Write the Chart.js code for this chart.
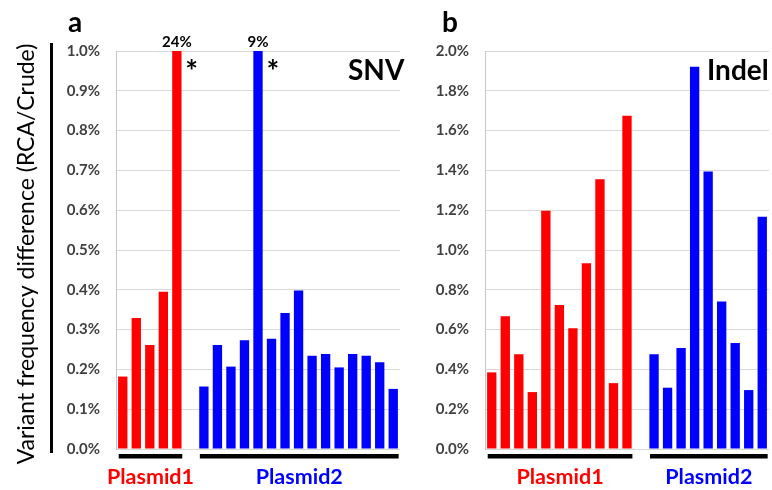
<!DOCTYPE html>
<html>
<head>
<meta charset="utf-8">
<script src="https://cdn.jsdelivr.net/npm/chart.js@4/dist/chart.umd.min.js"></script>
<style>
  body { margin: 0; background: #fff; }
  #wrap { position: relative; width: 772px; height: 490px; overflow: hidden; }
  canvas { position: absolute; top: 0; }
  #chartA { left: 0; }
  #chartB { left: 410px; }
</style>
</head>
<body>
<div id="wrap">
  <canvas id="chartA" width="410" height="490"></canvas>
  <canvas id="chartB" width="362" height="490"></canvas>
</div>
<script>
// SNV panel (a), values in %
const snvPlasmid1 = [0.182, 0.329, 0.261, 0.395, 24]
const snvPlasmid2 = [0.157, 0.261, 0.207, 0.273, 9, 0.277, 0.342, 0.398, 0.234, 0.239, 0.205, 0.239, 0.234, 0.218, 0.151]
// Indel panel (b), values in %
const indelPlasmid1 = [0.385, 0.667, 0.476, 0.286, 1.197, 0.724, 0.607, 0.933, 1.355, 0.331, 1.674]
const indelPlasmid2 = [0.476, 0.308, 0.508, 1.921, 1.395, 0.741, 0.533, 0.296, 1.167]

const snvTicks = [0, 0.1, 0.2, 0.3, 0.4, 0.5, 0.6, 0.7, 0.8, 0.9, 1.0]
const indelTicks = [0, 0.2, 0.4, 0.6, 0.8, 1.0, 1.2, 1.4, 1.6, 1.8, 2.0]
const groupNames = ['Plasmid1', 'Plasmid2']
const yTitle = 'Variant frequency difference (RCA/Crude)'

const RED = '#ff0000'
const BLUE = '#0000ff'
const FONT = 'Lato, "Open Sans", sans-serif'

// one empty slot between the two plasmids
function buildData(p1, p2) {
  const n = p1.length + 1 + p2.length
  const labels = []
  for (let i = 0; i < n; i++) labels.push('v' + (i + 1))
  const gap = [null]
  const d1 = p1.concat(gap, p2.map(() => null))
  const d2 = p1.map(() => null).concat(gap, p2)
  return { labels, d1, d2, first2: p1.length + 1 }
}

// black bars + group names below the x axis, star / value notes on top
const notesPlugin = {
  id: 'notes',
  afterDraw(chart, args, opts) {
    const ctx = chart.ctx
    const x = chart.scales.x
    const area = chart.chartArea
    const slot = x.getPixelForValue(1) - x.getPixelForValue(0)
    ctx.save()
    opts.groups.forEach((g) => {
      const x0 = x.getPixelForValue(g.from) - slot * 0.3
      const x1 = x.getPixelForValue(g.to) + slot * 0.4
      ctx.fillStyle = '#000'
      ctx.fillRect(x0, area.bottom + 5, x1 - x0, 4.5)
      ctx.fillStyle = g.color
      ctx.font = 'bold 21.5px ' + FONT
      ctx.textAlign = 'center'
      ctx.textBaseline = 'alphabetic'
      ctx.fillText(g.name, (x0 + x1) / 2, 484)
    })
    ;(opts.offscale || []).forEach((o) => {
      const px = x.getPixelForValue(o.index)
      ctx.fillStyle = '#000'
      ctx.textAlign = 'center'
      ctx.font = 'bold 15px ' + FONT
      ctx.fillText(o.text, px, area.top - 4)
      ctx.font = 'bold 30px ' + FONT
      ctx.fillText('*', px + slot * 1.1, area.top + 31)
    })
    ctx.fillStyle = '#000'
    ctx.textAlign = 'left'
    ctx.font = 'bold 28px ' + FONT
    ctx.fillText(opts.tag, opts.tagX, 80)
    ctx.textAlign = 'center'
    ctx.font = 'bold 28px ' + FONT
    ctx.fillText(opts.panel, opts.panelX, 32)
    if (opts.yTitle) {
      ctx.font = '23px ' + FONT
      ctx.translate(27, 254)
      ctx.rotate(-Math.PI / 2)
      ctx.textBaseline = 'middle'
      ctx.fillText(opts.yTitle, 0, 0)
      ctx.setTransform(1, 0, 0, 1, 0, 0)
      ctx.fillRect(50, 43, 3, 410)
    }
    ctx.restore()
  }
}

function makeChart(id, p1, p2, ticks, yWidth, padRight, notes) {
  const b = buildData(p1, p2)
  notes.groups = [
    { name: groupNames[0], color: RED, from: 0, to: p1.length - 1 },
    { name: groupNames[1], color: BLUE, from: b.first2, to: b.labels.length - 1 }
  ]
  return new Chart(document.getElementById(id), {
    type: 'bar',
    data: {
      labels: b.labels,
      datasets: [
        { data: b.d1, backgroundColor: RED, grouped: false },
        { data: b.d2, backgroundColor: BLUE, grouped: false }
      ]
    },
    options: {
      responsive: false,
      animation: false,
      events: [],
      layout: { padding: { left: 0, top: 51, right: padRight, bottom: 41 } },
      datasets: { bar: { categoryPercentage: 1, barPercentage: 0.69 } },
      plugins: { legend: { display: false }, tooltip: { enabled: false }, notes },
      scales: {
        x: { display: false },
        y: {
          min: ticks[0],
          max: ticks[ticks.length - 1],
          afterBuildTicks: (s) => { s.ticks = ticks.map((v) => ({ value: v })) },
          afterFit: (s) => { s.width = yWidth },
          grid: { color: '#d9d9d9', drawTicks: false },
          border: { color: '#c6c6c6' },
          ticks: {
            padding: 16,
            color: '#404040',
            font: { family: FONT, size: 15, weight: 'bold' },
            callback: (v) => v.toFixed(1) + '%'
          }
        }
      }
    },
    plugins: [notesPlugin]
  })
}

makeChart('chartA', snvPlasmid1, snvPlasmid2, snvTicks, 116, 10, {
  panel: 'a', panelX: 75, tag: 'SNV', tagX: 348, yTitle: yTitle,
  offscale: [
    { index: snvPlasmid1.length - 1, text: snvPlasmid1[snvPlasmid1.length - 1] + '%' },
    { index: snvPlasmid1.length + 1 + 4, text: snvPlasmid2[4] + '%' }
  ]
})
makeChart('chartB', indelPlasmid1, indelPlasmid2, indelTicks, 75, 3, {
  panel: 'b', panelX: 40, tag: 'Indel', tagX: 297
})
</script>
</body>
</html>
